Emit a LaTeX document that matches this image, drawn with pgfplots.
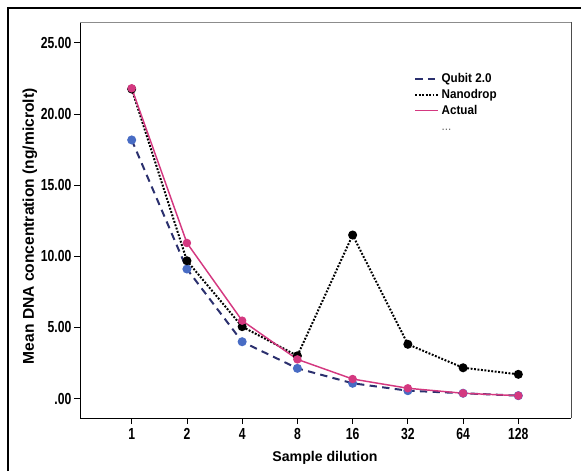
\documentclass[border=0pt]{standalone}
\usepackage{fontspec}
\setmainfont{Liberation Sans}
\newfontfamily\narrowsans[FakeStretch=0.76]{Liberation Sans}
\newfontfamily\legsans[FakeStretch=0.92]{Liberation Sans}
\usepackage{pgfplots}
\pgfplotsset{compat=1.18}

\definecolor{qubitline}{RGB}{43,48,110}
\definecolor{qubitmark}{RGB}{72,108,196}
\definecolor{actual}{RGB}{212,56,128}

\begin{document}
\begin{tikzpicture}
\useasboundingbox (-60pt,-39.75pt) rectangle (375.75pt,313.5pt);
\draw[line width=0.8pt] (-54pt,-39.75pt) -- (-54pt,307.5pt) -- (375.75pt,307.5pt);
\begin{axis}[
    at={(0,0)}, anchor=south west,
    scale only axis, width=368.25pt, height=297pt,
    xmin=-0.936, xmax=7.954, ymin=-1.37, ymax=26.46,
    xtick={0,...,7}, xticklabels={1,2,4,8,16,32,64,128},
    ytick={0,5,...,25}, yticklabels={.00,5.00,10.00,15.00,20.00,25.00},
    tick align=outside, major tick length=4.5pt,
    tick style={black, line width=0.6pt},
    xtick pos=bottom, ytick pos=left,
    axis line style={draw=none},
    clip=false,
    ticklabel style={font=\narrowsans\bfseries\fontsize{12}{14}\selectfont},
    yticklabel style={xshift=1.5pt},
    xlabel={Sample dilution},
    ylabel={Mean DNA concentration (ng/microlt)},
    xlabel style={font=\bfseries\fontsize{10.6}{12}\selectfont,
        at={(axis description cs:0.499,-0.101)}, anchor=center},
    ylabel style={font=\bfseries\fontsize{11.7}{13}\selectfont,
        at={(axis description cs:-0.102,0.484)}, anchor=center},
    legend style={draw=none, fill=none,
        font=\legsans\bfseries\fontsize{9.5}{11}\selectfont,
        nodes={text height=7pt, text depth=2pt},
        at={(axis description cs:0.672,0.886)}, anchor=north west,
        row sep=-1pt},
    legend cell align=left,
]
\draw[black, line width=0.7pt] (rel axis cs:0,1) -- (rel axis cs:0,0) -- (rel axis cs:1,0);
\draw[black!45, line width=0.7pt] (rel axis cs:0,1) -- (rel axis cs:1,1);
\draw[black!70, line width=0.7pt] (rel axis cs:1,1) -- (rel axis cs:1,0);

% Qubit 2.0
\addplot[color=qubitline, line width=1.5pt, dash pattern=on 5.5pt off 4pt,
    mark=*, mark size=2.6pt, mark options={solid, fill=qubitmark, draw=qubitmark},
    forget plot]
  coordinates {(0,18.17) (1,9.10) (2,3.99) (3,2.12) (4,1.07) (5,0.55) (6,0.37) (7,0.20)};
% Nanodrop
\addplot[color=black, line width=1.5pt, dash pattern=on 1.4pt off 1.2pt,
    mark=*, mark size=2.6pt, mark options={solid, fill=black},
    forget plot]
  coordinates {(0,21.75) (1,9.68) (2,5.05) (3,3.00) (4,11.49) (5,3.81) (6,2.16) (7,1.70)};
% Actual
\addplot[color=actual, line width=1.1pt,
    mark=*, mark size=2.6pt, mark options={solid, fill=actual},
    forget plot]
  coordinates {(0,21.80) (1,10.93) (2,5.47) (3,2.75) (4,1.37) (5,0.72) (6,0.37) (7,0.20)};

\addlegendimage{color=qubitline, line width=1.5pt, dash pattern=on 5.5pt off 4pt}
\addlegendentry{Qubit 2.0}
\addlegendimage{color=black, line width=1.5pt, dash pattern=on 1.4pt off 1.2pt}
\addlegendentry{Nanodrop}
\addlegendimage{color=actual, line width=1.1pt}
\addlegendentry{Actual}
\addlegendimage{empty legend}
\addlegendentry{\mdseries\textcolor{black!60}{...}}
\end{axis}
\end{tikzpicture}
\end{document}
